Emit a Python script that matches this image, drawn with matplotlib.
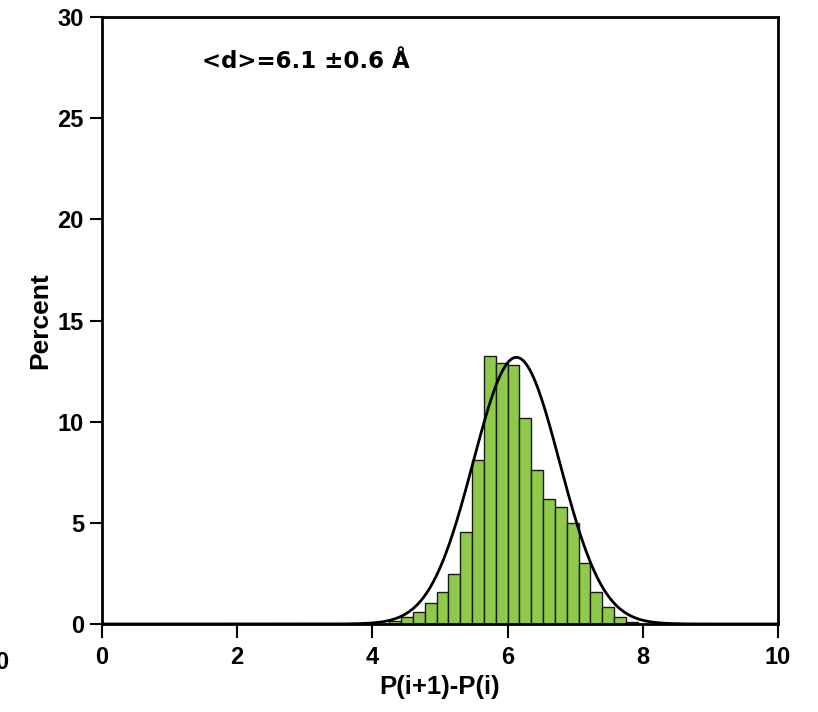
import numpy as np
import matplotlib.pyplot as plt

# histogram of P(i+1)-P(i) distances (percent per bin)
bin_left = [4.25, 4.425, 4.60, 4.775, 4.95, 5.125, 5.30, 5.475, 5.65, 5.825, 6.00,
            6.175, 6.35, 6.525, 6.70, 6.875, 7.05, 7.225, 7.40, 7.575, 7.75]
percent = [0.15, 0.36, 0.60, 1.05, 1.60, 2.47, 4.53, 8.10, 13.25, 12.90, 12.80,
           10.20, 7.60, 6.18, 5.77, 4.98, 3.03, 1.60, 0.86, 0.33, 0.10]
bin_width = 0.175

# gaussian fit parameters
fit_mean = 6.13
fit_sigma = 0.64
fit_peak = 13.18

plt.rcParams["font.family"] = ["Liberation Sans", "DejaVu Sans"]

fig = plt.figure(figsize=(8.18, 7.12), dpi=100)
ax = fig.add_axes([0.1247, 0.1236, 0.8264, 0.8525])

ax.bar(bin_left, percent, width=bin_width, align="edge",
       color="#8fc94a", edgecolor="#1a1a1a", linewidth=1.0, zorder=2)

xs = np.linspace(0, 10, 600)
ax.plot(xs, fit_peak * np.exp(-0.5 * ((xs - fit_mean) / fit_sigma) ** 2),
        color="black", linewidth=2.0, zorder=3)

ax.set_xlim(0, 10)
ax.set_ylim(0, 30)
ax.set_xticks([0, 2, 4, 6, 8, 10])
ax.set_yticks([0, 5, 10, 15, 20, 25, 30])
ax.tick_params(axis="both", direction="out", width=1.5, labelsize=17)
ax.tick_params(axis="x", length=10, pad=6)
ax.tick_params(axis="y", length=9, pad=4)
for lab in ax.get_xticklabels() + ax.get_yticklabels():
    lab.set_fontweight("bold")

for side in ax.spines.values():
    side.set_linewidth(2.0)

ax.set_xlabel("P(i+1)-P(i)", fontsize=18.5, fontweight="bold", labelpad=4)
ax.set_ylabel("Percent", fontsize=19, fontweight="bold", labelpad=4)

ax.text(0.148, 0.926, "<d>=6.1 \u00b10.6 \u00c5", transform=ax.transAxes,
        fontsize=16.5, fontweight="bold", family="DejaVu Sans",
        ha="left", va="center")

# partial label cut off at the left border
fig.text(-0.006, 0.069, "0", fontsize=17, fontweight="bold", ha="left", va="center")

fig.savefig("out.png", dpi=100)
